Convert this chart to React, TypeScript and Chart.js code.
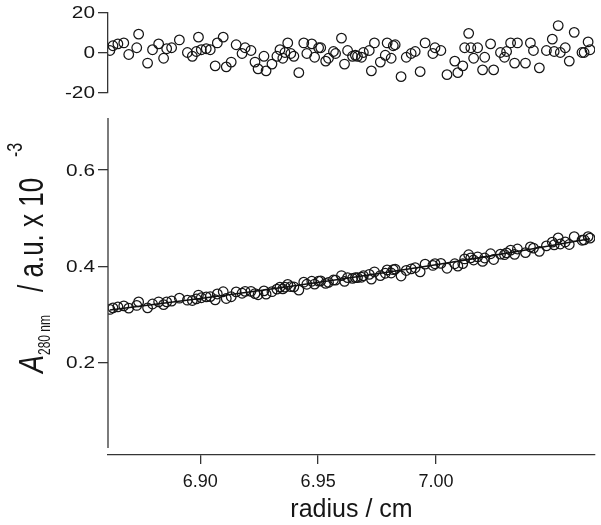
import React, { useEffect, useRef } from "react";
import { Chart, registerables } from "chart.js";

Chart.register(...registerables);

// radius / cm of each scan point
const radius = [
  6.8616, 6.8629, 6.8650, 6.8675, 6.8696, 6.8730, 6.8738, 6.8776, 6.8797, 6.8823,
  6.8844, 6.8857, 6.8878, 6.8911, 6.8945, 6.8966, 6.8983, 6.8992, 6.9004, 6.9025,
  6.9042, 6.9063, 6.9072, 6.9097, 6.9110, 6.9131, 6.9152, 6.9177, 6.9190, 6.9215,
  6.9232, 6.9245, 6.9270, 6.9279, 6.9304, 6.9325, 6.9338, 6.9350, 6.9359, 6.9371,
  6.9384, 6.9397, 6.9418, 6.9439, 6.9452, 6.9473, 6.9485, 6.9502, 6.9511, 6.9532,
  6.9544, 6.9565, 6.9574, 6.9599, 6.9612, 6.9625, 6.9646, 6.9658, 6.9667, 6.9684,
  6.9692, 6.9717, 6.9726, 6.9739, 6.9764, 6.9785, 6.9793, 6.9810, 6.9819, 6.9827,
  6.9852, 6.9874, 6.9895, 6.9912, 6.9933, 6.9954, 6.9987, 6.9996, 7.0021, 7.0047,
  7.0080, 7.0093, 7.0114, 7.0122, 7.0139, 7.0148, 7.0160, 7.0177, 7.0198, 7.0207,
  7.0232, 7.0245, 7.0274, 7.0291, 7.0300, 7.0317, 7.0334, 7.0346, 7.0380, 7.0401,
  7.0414, 7.0439, 7.0469, 7.0494, 7.0502, 7.0519, 7.0528, 7.0549, 7.0566, 7.0587,
  7.0620, 7.0629, 7.0646, 7.0654,
];

// residuals (top panel)
const residual = [
  1.0, 3.4, 4.3, 4.8, -1.0, 2.4, 9.2, -5.3, 1.4, 4.3,
  -2.9, 1.9, 2.4, 6.3, 0.0, -1.9, 0.5, 7.7, 1.4, 1.9,
  1.4, -6.7, 4.8, 7.7, -7.2, -4.8, 3.9, -0.5, 2.4, 1.0,
  -4.8, -8.2, -1.9, -9.2, -5.8, -1.9, 1.4, -2.9, 0.0, 4.8,
  -0.5, -1.9, -10.1, 4.8, -0.5, 4.3, -2.4, 2.4, 2.4, -4.3,
  -2.9, 0.5, -0.5, 7.2, -5.8, 1.0, -1.9, -1.4, -1.9, -2.4,
  0.0, 1.0, -9.2, 4.8, -4.8, -1.4, 4.8, -2.9, 3.4, 3.9,
  -12.1, -2.4, -0.5, 0.5, -9.6, 4.8, -0.5, 2.4, 1.0, -11.1,
  -4.3, -10.1, -6.7, 2.4, 9.6, 2.4, -2.9, 2.4, -8.7, -2.4,
  4.3, -8.7, 0.0, -2.4, 0.5, 4.8, -5.3, 4.8, -5.3, 4.8,
  1.0, -7.7, 1.0, 6.7, 0.5, 13.5, 0.0, 2.4, -4.3, 10.1,
  0.0, 0.0, 5.3, 1.4,
];

// measured absorbance (bottom panel)
const absorbance = [
  0.3110, 0.3142, 0.3164, 0.3184, 0.3138, 0.3193, 0.3266, 0.3143, 0.3223, 0.3268,
  0.3210, 0.3266, 0.3284, 0.3343, 0.3302, 0.3296, 0.3330, 0.3408, 0.3353, 0.3371,
  0.3377, 0.3310, 0.3431, 0.3476, 0.3336, 0.3373, 0.3474, 0.3446, 0.3484, 0.3486,
  0.3439, 0.3414, 0.3494, 0.3427, 0.3478, 0.3531, 0.3572, 0.3537, 0.3572, 0.3629,
  0.3584, 0.3579, 0.3512, 0.3675, 0.3632, 0.3694, 0.3636, 0.3696, 0.3702, 0.3650,
  0.3672, 0.3721, 0.3717, 0.3812, 0.3692, 0.3769, 0.3755, 0.3769, 0.3770, 0.3778,
  0.3808, 0.3836, 0.3740, 0.3890, 0.3812, 0.3861, 0.3929, 0.3865, 0.3934, 0.3945,
  0.3804, 0.3918, 0.3952, 0.3975, 0.3890, 0.4050, 0.4022, 0.4058, 0.4064, 0.3963,
  0.4057, 0.4009, 0.4060, 0.4157, 0.4243, 0.4178, 0.4134, 0.4201, 0.4106, 0.4177,
  0.4264, 0.4145, 0.4256, 0.4245, 0.4282, 0.4339, 0.4252, 0.4363, 0.4289, 0.4407,
  0.4380, 0.4314, 0.4427, 0.4505, 0.4450, 0.4594, 0.4467, 0.4509, 0.4456, 0.4618,
  0.4545, 0.4553, 0.4620, 0.4588,
];

// fitted curve
const fitRadius = [6.8616, 6.88, 6.90, 6.92, 6.94, 6.96, 6.98, 7.00, 7.02, 7.04, 7.0654];
const fitAbsorbance = [0.3100, 0.3211, 0.3336, 0.3466, 0.3600, 0.3741, 0.3886, 0.4037, 0.4195, 0.4358, 0.4574];

const xTicks = [6.90, 6.95, 7.00];
const absTicks = [0.2, 0.4, 0.6];
const residTicks = [-20, 0, 20];
const xMin = 6.8608;
const xMax = 7.0675;
const absMin = 0.0093;
const absMax = 0.7078;
const residMin = -20;
const residMax = 20;

const FONT = '"Liberation Sans", Arial, Helvetica, sans-serif';
const INK = "#161616";
const AXIS = "#353535";

function yLabelPlugin(id: string, ticks: number[], fmt: (v: number) => string) {
  return {
    id,
    afterDraw(chart: any) {
      const ctx = chart.ctx;
      const ys = chart.scales.y;
      ctx.save();
      ctx.fillStyle = INK;
      ctx.font = `16px ${FONT}`;
      ctx.textAlign = "right";
      ctx.textBaseline = "middle";
      ticks.forEach((v) => {
        const py = ys.getPixelForValue(v);
        ctx.save();
        ctx.translate(95, py + 1);
        ctx.scale(1.3, 1.02);
        ctx.fillText(fmt(v), 0, 0);
        ctx.restore();
      });
      ctx.restore();
    },
  };
}

const bottomDecor = {
  id: "bottomDecor",
  afterDraw(chart: any) {
    const ctx = chart.ctx;
    const a = chart.chartArea;
    ctx.save();
    // y axis line, stopping short of x axis
    ctx.strokeStyle = AXIS;
    ctx.lineWidth = 1.3;
    ctx.beginPath();
    ctx.moveTo(a.left, a.top);
    ctx.lineTo(a.left, a.bottom - 7);
    ctx.stroke();
    // y axis title
    ctx.fillStyle = INK;
    ctx.translate(43, 373);
    ctx.rotate(-Math.PI / 2);
    ctx.scale(1, 1.33);
    ctx.textAlign = "left";
    ctx.textBaseline = "alphabetic";
    ctx.font = `italic 27px ${FONT}`;
    ctx.fillText("A", 0, 0);
    ctx.font = `12px ${FONT}`;
    ctx.fillText("280 nm", 18, 7 / 1.33);
    ctx.font = `26px ${FONT}`;
    ctx.fillText("/ a.u. x 10", 81, 0);
    ctx.font = `16px ${FONT}`;
    ctx.fillText("-3", 216, -21 / 1.33);
    ctx.restore();
  },
};

export default function App() {
  const topRef = useRef<HTMLCanvasElement | null>(null);
  const botRef = useRef<HTMLCanvasElement | null>(null);

  useEffect(() => {
    Chart.defaults.font.family = FONT;
    Chart.defaults.color = INK;

    const pointStyle = {
      pointRadius: 4.8,
      pointHoverRadius: 4.8,
      pointBorderWidth: 1.25,
      borderColor: INK,
      backgroundColor: "rgba(0,0,0,0)",
      pointStyle: "circle",
      showLine: false,
    };

    const top = new Chart(topRef.current as HTMLCanvasElement, {
      type: "scatter",
      data: {
        datasets: [
          {
            ...pointStyle,
            data: radius.map((x, i) => ({ x, y: residual[i] })),
          } as any,
        ],
      },
      options: {
        animation: false,
        responsive: false,
        maintainAspectRatio: false,
        layout: { padding: { top: 11, bottom: 11, left: 0, right: 3 } },
        plugins: { legend: { display: false }, tooltip: { enabled: false } },
        scales: {
          x: { type: "linear", min: xMin, max: xMax, display: false },
          y: {
            type: "linear",
            min: residMin,
            max: residMax,
            afterFit(s: any) {
              s.width = 108;
            },
            afterBuildTicks(s: any) {
              s.ticks = residTicks.map((v) => ({ value: v }));
            },
            grid: { drawOnChartArea: false, drawTicks: true, tickLength: 10, color: AXIS, lineWidth: 1.3 },
            border: { display: true, color: AXIS, width: 1.3 },
            ticks: { color: "rgba(0,0,0,0)", font: { size: 16 } },
          },
        },
      },
      plugins: [yLabelPlugin("topLabels", residTicks, (v) => String(v))],
    } as any);

    const bottom = new Chart(botRef.current as HTMLCanvasElement, {
      type: "scatter",
      data: {
        datasets: [
          {
            data: fitRadius.map((x, i) => ({ x, y: fitAbsorbance[i] })),
            showLine: true,
            borderColor: "#111",
            borderWidth: 1.6,
            pointRadius: 0,
            pointHoverRadius: 0,
            tension: 0,
          } as any,
          {
            ...pointStyle,
            data: radius.map((x, i) => ({ x, y: absorbance[i] })),
          } as any,
        ],
      },
      options: {
        animation: false,
        responsive: false,
        maintainAspectRatio: false,
        layout: { padding: { top: 118, bottom: 0, left: 0, right: 3 } },
        plugins: { legend: { display: false }, tooltip: { enabled: false } },
        scales: {
          x: {
            type: "linear",
            min: xMin,
            max: xMax,
            afterFit(s: any) {
              s.height = 70;
            },
            afterBuildTicks(s: any) {
              s.ticks = xTicks.map((v) => ({ value: v }));
            },
            grid: { drawOnChartArea: false, drawTicks: true, tickLength: 9, color: AXIS, lineWidth: 1.3 },
            border: { display: true, color: AXIS, width: 1.3 },
            ticks: {
              color: INK,
              font: { size: 18 },
              padding: 7,
              maxRotation: 0,
              callback: (v: any) => Number(v).toFixed(2),
            },
            title: {
              display: true,
              text: "radius / cm",
              color: INK,
              font: { size: 25 },
              padding: { top: 0, bottom: 0 },
            },
          },
          y: {
            type: "linear",
            min: absMin,
            max: absMax,
            afterFit(s: any) {
              s.width = 108;
            },
            afterBuildTicks(s: any) {
              s.ticks = absTicks.map((v) => ({ value: v }));
            },
            grid: { drawOnChartArea: false, drawTicks: true, tickLength: 10, color: AXIS, lineWidth: 1.3 },
            border: { display: false },
            ticks: { color: "rgba(0,0,0,0)", font: { size: 16 } },
          },
        },
      },
      plugins: [yLabelPlugin("botLabels", absTicks, (v) => v.toFixed(1)), bottomDecor],
    } as any);

    return () => {
      top.destroy();
      bottom.destroy();
    };
  }, []);

  return (
    <div
      style={{
        position: "fixed",
        left: 0,
        top: 0,
        width: 601,
        height: 525,
        background: "#fff",
      }}
    >
      <canvas
        ref={botRef}
        width={601}
        height={525}
        style={{ position: "absolute", left: 0, top: 0, display: "block" }}
      />
      <canvas
        ref={topRef}
        width={601}
        height={105}
        style={{ position: "absolute", left: 0, top: 0, display: "block" }}
      />
    </div>
  );
}
